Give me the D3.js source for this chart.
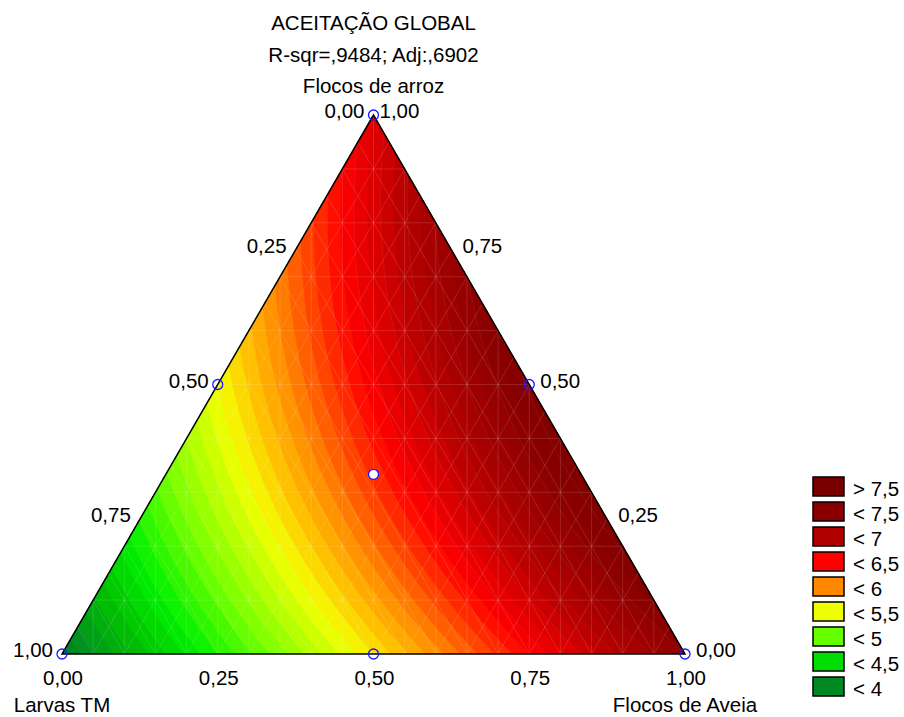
<!DOCTYPE html>
<html><head><meta charset="utf-8">
<script src="https://cdn.jsdelivr.net/npm/d3@7"></script>
<style>
body{margin:0;background:#fff}
text{font-family:"Liberation Sans",Arial,sans-serif;fill:#000}
</style>
</head><body>
<svg id="chart" width="904" height="717"></svg>
<script>
// ---- data ----
const componentNames = ["Flocos de arroz", "Larvas TM", "Flocos de Aveia"];
// fitted quadratic mixture model: y = b1*A + b2*L + b3*V + b12*A*L + b13*A*V + b23*L*V
const linearCoef = [6.7, 3.8, 7.4];          // arroz, larvas, aveia
const pairIndex = [[0, 1], [0, 2], [1, 2]];
const pairCoef = [1.0, 2.3, 0.0];
const tickValues = [0, 0.25, 0.5, 0.75, 1];
const designPoints = [[1,0,0],[0,1,0],[0,0,1],[0.5,0.5,0],[0.5,0,0.5],[0,0.5,0.5],[1/3,1/3,1/3]];
const legendLabels = ["> 7,5", "< 7,5", "< 7", "< 6,5", "< 6", "< 5,5", "< 5", "< 4,5", "< 4"];
const legendColors = ["#7a0000", "#8a0000", "#b00000", "#ff0000", "#ff8800", "#eeff00", "#66ff00", "#00dd00", "#008822"];
const rampValues = [3.5, 3.9, 4.3, 4.6, 5.0, 5.5, 5.75, 6.0, 6.5, 7.0, 7.5, 8.0];
const rampColors = ["#005f3a", "#008a22", "#00c400", "#00f000", "#77ff00", "#f4ff00", "#ffc000", "#ff8800", "#ff0000", "#b40000", "#880000", "#760000"];
const titleLines = ["ACEITAÇÃO GLOBAL", "R-sqr=,9484; Adj:,6902"];

// ---- setup ----
const svg = d3.select("#chart");
const xs = d3.scaleLinear().domain([0, 1]).range([62, 685]);
const ys = d3.scaleLinear().domain([0, 1]).range([654, 115]);
const color = d3.scaleLinear().domain(rampValues).range(rampColors).clamp(true);
const fmt = v => d3.format(".2f")(v).replace(".", ",");
const FS = 20.5;

// ternary (a, l, v) -> pixel
const P = (a, l, v) => [xs(v + a / 2), ys(a)];
function model(c) {
  let s = 0;
  for (let k = 0; k < 3; k++) s += linearCoef[k] * c[k];
  pairIndex.forEach((p, k) => { s += pairCoef[k] * c[p[0]] * c[p[1]]; });
  return s;
}

// ---- grid + contours ----
const n = 330, m = 290;
const u0 = -0.02, a1 = 1.02, du = 1.04 / (n - 1), da = 1.04 / (m - 1);
const values = new Float64Array(n * m);
for (let j = 0; j < m; j++) {
  const a = a1 - j * da;
  for (let i = 0; i < n; i++) {
    const u = u0 + i * du;
    const v = u - a / 2, l = 1 - a - v;
    values[j * n + i] = model([a, l, v]);
  }
}
const thresholds = d3.range(30, 86).map(d => d / 10);
const contours = d3.contours().size([n, m]).thresholds(thresholds)(values);
const path = d3.geoPath(d3.geoTransform({
  point: function (x, y) {
    this.stream.point(xs(u0 + (x - 0.5) * du), ys(a1 - (y - 0.5) * da));
  }
}));

const tri = [P(1,0,0), P(0,1,0), P(0,0,1)];
svg.append("clipPath").attr("id", "tri")
  .append("polygon").attr("points", tri.map(p => p.join(",")).join(" "));

const g = svg.append("g").attr("clip-path", "url(#tri)");
g.selectAll("path.band").data(contours).join("path")
  .attr("class", "band")
  .attr("d", path)
  .attr("fill", d => color(d.value + 0.05))
  .attr("stroke", d => color(d.value + 0.05))
  .attr("stroke-width", 0.3);

// faint band seams
g.selectAll("path.seam").data(contours.filter(d => Math.round(d.value * 10) % 2 === 0)).join("path")
  .attr("class", "seam")
  .attr("d", path)
  .attr("fill", "none")
  .attr("stroke", "rgba(255,255,255,0.10)")
  .attr("stroke-width", 0.7);

// mesh lines
const mesh = [];
d3.range(1, 10).forEach(k => { const a = k / 10; mesh.push([P(a, 1 - a, 0), P(a, 0, 1 - a)]); });
d3.range(1, 20).forEach(k => {
  const t = k / 20;
  mesh.push([P(0, 1 - t, t), P(1 - t, 0, t)]);      // constant V
  mesh.push([P(0, t, 1 - t), P(1 - t, t, 0)]);      // constant L
  const amax = t <= 0.5 ? 2 * t : 2 * (1 - t);
  mesh.push([[xs(t), ys(0)], [xs(t), ys(amax)]]);   // vertical
});
g.selectAll("line.mesh").data(mesh).join("line")
  .attr("class", "mesh")
  .attr("x1", d => d[0][0]).attr("y1", d => d[0][1])
  .attr("x2", d => d[1][0]).attr("y2", d => d[1][1])
  .attr("stroke", "rgba(255,255,255,0.17)")
  .attr("stroke-width", 0.8);

// triangle outline
svg.append("polygon").attr("points", tri.map(p => p.join(",")).join(" "))
  .attr("fill", "none").attr("stroke", "#000").attr("stroke-width", 1.5)
  .attr("stroke-linejoin", "miter");

// design points
svg.selectAll("circle.pt").data(designPoints).join("circle")
  .attr("class", "pt")
  .attr("cx", d => P(d[0], d[1], d[2])[0])
  .attr("cy", d => P(d[0], d[1], d[2])[1])
  .attr("r", 5)
  .attr("fill", d => (d[0] > 0 && d[1] > 0 && d[2] > 0) ? "#fff" : "none")
  .attr("stroke", "#1a1aff").attr("stroke-width", 1.3);

// ---- titles ----
const cx = xs(0.5);
svg.append("text").attr("x", cx).attr("y", 30).attr("text-anchor", "middle").attr("font-size", FS).text(titleLines[0]);
svg.append("text").attr("x", cx).attr("y", 62).attr("text-anchor", "middle").attr("font-size", FS).text(titleLines[1]);
svg.append("text").attr("x", cx).attr("y", 93).attr("text-anchor", "middle").attr("font-size", FS).text(componentNames[0]);
svg.append("text").attr("x", xs(0)).attr("y", 712).attr("text-anchor", "middle").attr("font-size", FS).text(componentNames[1]);
svg.append("text").attr("x", xs(1)).attr("y", 712).attr("text-anchor", "middle").attr("font-size", FS).text(componentNames[2]);

// ---- tick labels ----
// bottom axis: Flocos de Aveia
svg.selectAll("text.tb").data(tickValues).join("text").attr("class", "tb")
  .attr("x", t => P(0, 1 - t, t)[0] + 1).attr("y", 685)
  .attr("text-anchor", "middle").attr("font-size", FS).text(fmt);
// left axis: Larvas TM
svg.selectAll("text.tl").data(tickValues).join("text").attr("class", "tl")
  .attr("x", t => P(1 - t, t, 0)[0] - 9).attr("y", t => P(1 - t, t, 0)[1] + 3)
  .attr("text-anchor", "end").attr("font-size", FS).text(fmt);
// right axis: Flocos de arroz
svg.selectAll("text.tr").data(tickValues).join("text").attr("class", "tr")
  .attr("x", t => P(t, 0, 1 - t)[0] + (t === 1 ? 6 : 11)).attr("y", t => P(t, 0, 1 - t)[1] + 3)
  .attr("text-anchor", "start").attr("font-size", FS).text(fmt);

// ---- legend ----
const leg = svg.append("g");
const ly = d3.scaleBand().domain(legendLabels).range([477, 477 + 25 * legendLabels.length]);
leg.selectAll("rect").data(legendLabels).join("rect")
  .attr("x", 813).attr("y", d => ly(d)).attr("width", 31).attr("height", 19)
  .attr("fill", (d, i) => legendColors[i]).attr("stroke", "#000").attr("stroke-width", 1.5);
leg.selectAll("text").data(legendLabels).join("text")
  .attr("x", 853).attr("y", d => ly(d) + 18.5).attr("font-size", FS).text(d => d);
</script>
</body></html>
